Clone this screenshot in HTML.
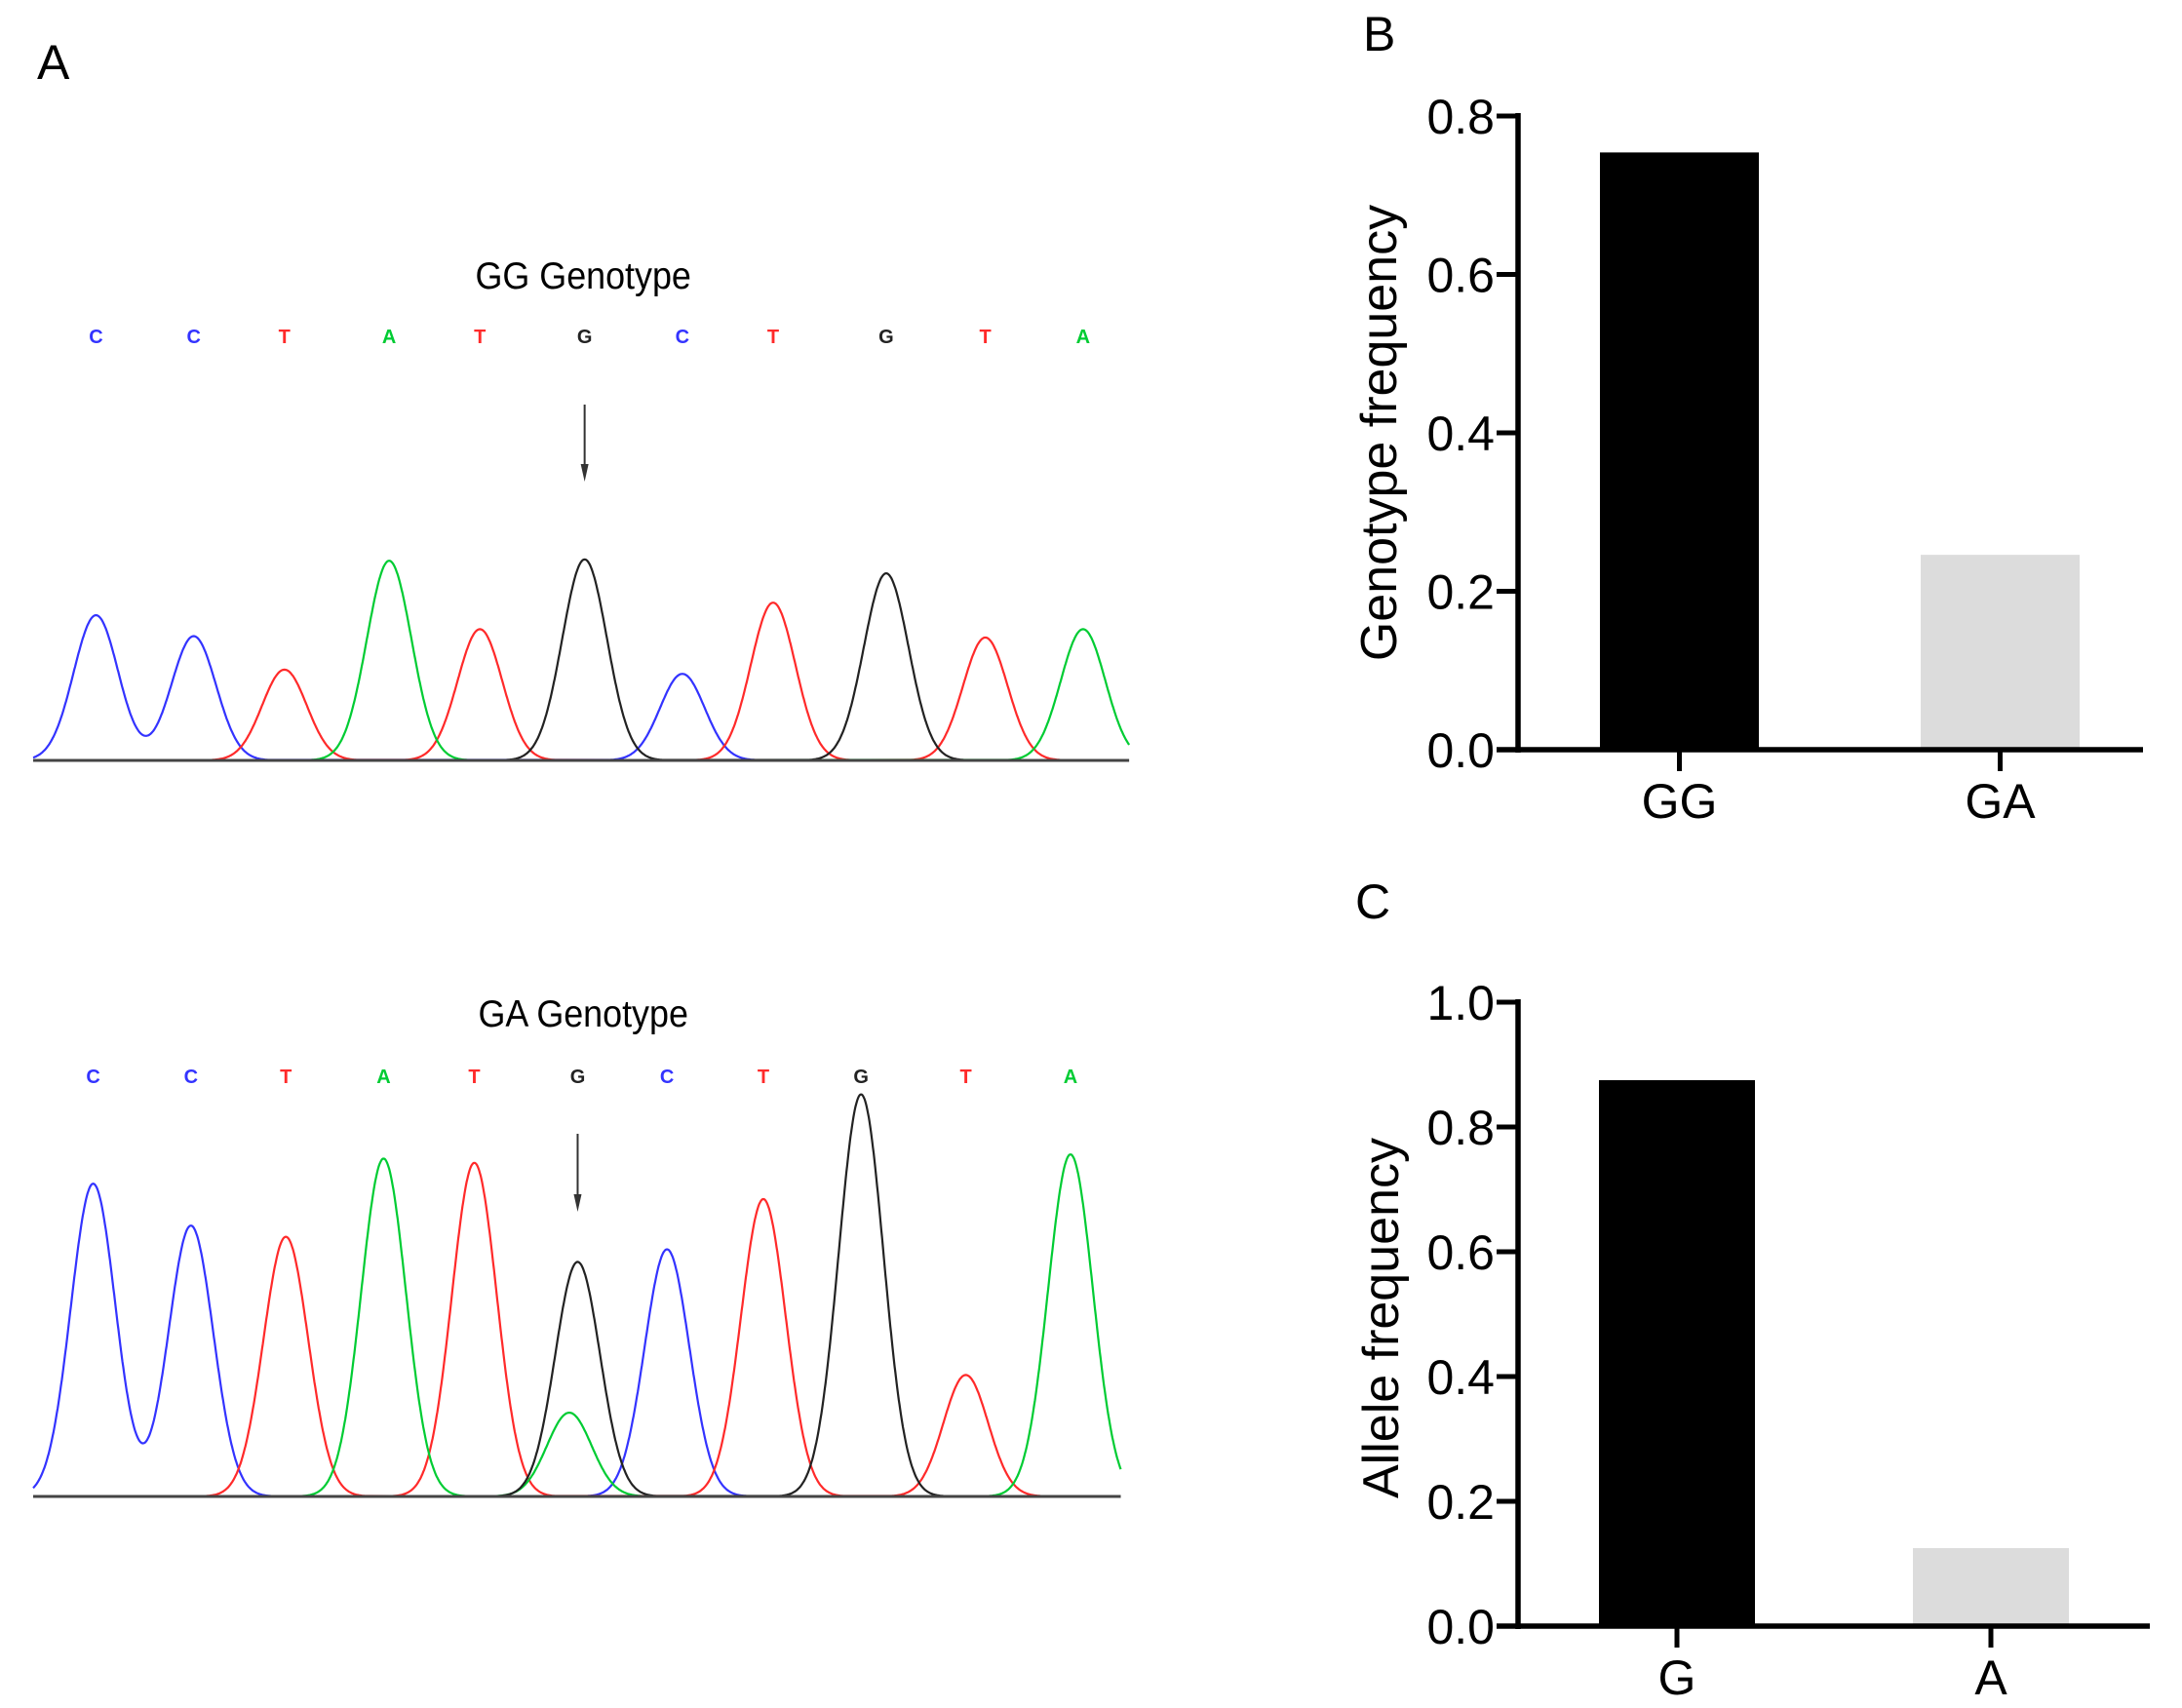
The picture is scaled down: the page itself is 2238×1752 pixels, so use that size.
<!DOCTYPE html>
<html><head><meta charset="utf-8"><style>
html,body{margin:0;padding:0;background:#fff}
svg{display:block}
text{font-family:"Liberation Sans",sans-serif}
</style></head><body>
<svg id="fig" width="2238" height="1752" viewBox="0 0 2238 1752" xmlns="http://www.w3.org/2000/svg">
<text x="38" y="81" font-size="50">A</text>
<text x="1398" y="52" font-size="50">B</text>
<text x="1390" y="942" font-size="50">C</text>
<g id="chromA"></g>
<g id="chartB"></g>
<g id="chartC"></g>
</svg>
<script>
// ---- Panel B data ----
const genoCats = ["GG","GA"];
const genoVals = [0.754,0.246];
const genoTicks = ["0.0","0.2","0.4","0.6","0.8"];
// ---- Panel C data ----
const alleleCats = ["G","A"];
const alleleVals = [0.875,0.125];
const alleleTicks = ["0.0","0.2","0.4","0.6","0.8","1.0"];
// ---- Chromatogram data (trace position, base, signal) ----
const seq1Bases = ["C","C","T","A","T","G","C","T","G","T","A"];
const seq1Pos = [69,139,204,279,344,419,489,554,635,706,776];
const seq1Heights = [104,89,65,143,94,144,62,113,134,88,94];
const seq2Bases = ["C","C","T","A","T","G","C","T","G","T","A"];
const seq2Pos = [67,137,205,275,340,414,478,547,617,692,767];
const seq2Heights = [224,194,186,242,239,168,177,213,288,87,245];
const seq2ExtraBase = ["A"];
const seq2ExtraPos = [408];
const seq2ExtraHeights = [60];

const NS="http://www.w3.org/2000/svg";
function mk(tag,attrs,parent){const e=document.createElementNS(NS,tag);for(const k in attrs)e.setAttribute(k,attrs[k]);parent.appendChild(e);return e;}
const colors={C:"#3333ff",T:"#ff2a2a",A:"#00cc33",G:"#222222"};

function drawBar(g,cats,vals,ticks,cfg,name){
  const y=v=>cfg.y0-(v/cfg.max)*(cfg.y0-cfg.yTop);
  cats.forEach((c,i)=>{
    const bx=cfg.barX[i];
    const r=mk("rect",{x:bx,y:y(vals[i]),width:cfg.barW,height:cfg.y0-y(vals[i]),fill:i==0?"#000":"#dcdcdc"},g);
    
    
    const cx=bx+cfg.barW/2;
    const tk=mk("line",{x1:cx,x2:cx,y1:cfg.y0,y2:cfg.y0+22,stroke:"#000","stroke-width":5},g);
    
    
    const t=mk("text",{x:cx,y:cfg.y0+70,"font-size":50,"text-anchor":"middle"},g);
    t.textContent=c;
    
    
  });
  const ya=mk("line",{x1:cfg.ax,x2:cfg.ax,y1:cfg.yTop-3,y2:cfg.y0+3,stroke:"#000","stroke-width":5.5},g);
  
  
  const xa=mk("line",{x1:cfg.ax-22,x2:cfg.xEnd,y1:cfg.y0,y2:cfg.y0,stroke:"#000","stroke-width":5.5},g);
  
  
  ticks.forEach(tl=>{
    const v=parseFloat(tl), ty=y(v);
    const l=mk("line",{x1:cfg.ax-22,x2:cfg.ax,y1:ty,y2:ty,stroke:"#000","stroke-width":5},g);
    
    
    const t=mk("text",{x:cfg.ax-24,y:ty+18,"font-size":50,"text-anchor":"end"},g);
    t.textContent=tl;
    
    
  });
  const at=mk("text",{x:0,y:0,"font-size":52,"text-anchor":"middle",transform:`translate(${cfg.titleX},${cfg.titleY}) rotate(-90)`},g);
  at.textContent=cfg.title;
  
  
}
drawBar(document.getElementById("chartB"),genoCats,genoVals,genoTicks,
  {y0:769,yTop:119,max:0.8,ax:1557,xEnd:2198,barX:[1641,1970],barW:163,title:"Genotype frequency",titleX:1432,titleY:444},"b");
drawBar(document.getElementById("chartC"),alleleCats,alleleVals,alleleTicks,
  {y0:1668,yTop:1028,max:1.0,ax:1557,xEnd:2205,barX:[1640,1962],barW:160,title:"Allele frequency",titleX:1434,titleY:1352},"c");

const S=1.432;
function X(p){return 34+(p-24)*S;}
function drawTrace(g,bases,pos,hts,extraB,extraP,extraH,base,title,titleY,letterY,arrowY0,arrowY1,arrowIdx,x0,x1,name){
  const t=mk("text",{x:X(418),y:titleY,"font-size":39,"text-anchor":"middle",transform:`translate(${X(418)},0) scale(0.92,1) translate(${-X(418)},0)`},g);
  t.textContent=title;
  
  
  bases.forEach((b,i)=>{
    const l=mk("text",{x:X(pos[i]),y:letterY,"font-size":20,"font-family":"Liberation Mono, monospace","font-weight":"bold","text-anchor":"middle",fill:colors[b]},g);
    l.textContent=b;
    
    
  });
  const ax=X(pos[arrowIdx]);
  const ar=mk("line",{x1:ax,x2:ax,y1:arrowY0,y2:arrowY1-12,stroke:"#333","stroke-width":2},g);
  
  
  const ah=mk("path",{d:`M${ax-4},${arrowY1-18} L${ax+4},${arrowY1-18} L${ax},${arrowY1} Z`,fill:"#333"},g);
  
  
  const allB=bases.concat(extraB), allP=pos.concat(extraP), allH=hts.concat(extraH);
  const sig=16;
  ["C","T","A","G"].forEach(ch=>{
    let d="";
    for(let x=x0;x<=x1;x+=0.5){
      let s=0;
      allB.forEach((b,i)=>{if(b===ch){const dx=x-allP[i];s+=allH[i]*Math.exp(-dx*dx/(2*sig*sig));}});
      if(s<0.3) continue;
      const px=X(x), py=base-s*S;
      d+=(d===""?"M":"L")+px.toFixed(1)+","+py.toFixed(1)+" ";
    }
    const p=mk("path",{d:d,fill:"none",stroke:colors[ch],"stroke-width":2.2},g);
    
    
  });
  const bl=mk("line",{x1:X(x0),x2:X(x1),y1:base,y2:base,stroke:"#444","stroke-width":3},g);
  
  
}
const gA=document.getElementById("chromA");
drawTrace(gA,seq1Bases,seq1Pos,seq1Heights,[],[],[],780,"GG Genotype",296,352,415,494,5,24,809,"gg");
drawTrace(gA,seq2Bases,seq2Pos,seq2Heights,seq2ExtraBase,seq2ExtraPos,seq2ExtraHeights,1535,"GA Genotype",1053,1111,1163,1243,5,24,803,"ga");
</script>
</body></html>
